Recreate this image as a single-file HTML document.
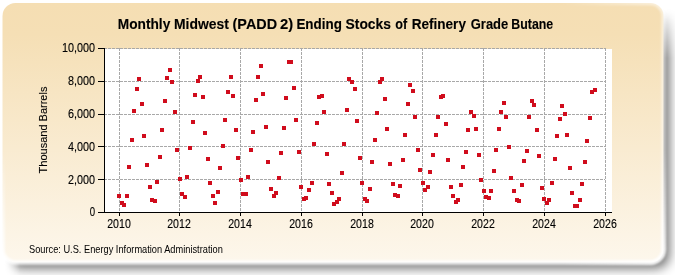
<!DOCTYPE html>
<html><head><meta charset="utf-8"><style>
html,body{margin:0;padding:0;background:#fff;}
body{width:675px;height:275px;overflow:hidden;position:relative;}
svg{position:absolute;left:0;top:0;}
svg{will-change:transform;}
text{font-family:"Liberation Sans",sans-serif;fill:#000;stroke:#000;stroke-width:0.12px;}
</style></head><body>
<svg width="675" height="275" viewBox="0 0 675 275">
<defs>
<linearGradient id="bg" x1="0" y1="0" x2="0" y2="1">
<stop offset="0" stop-color="#F5DEB3"/>
<stop offset="0.12" stop-color="#F5DFB5"/>
<stop offset="1" stop-color="#FDF7EC"/>
</linearGradient>
<filter id="sh" x="-5%" y="-10%" width="110%" height="120%">
<feGaussianBlur stdDeviation="5.75"/>
</filter>
<filter id="sh2" x="-10%" y="-10%" width="120%" height="120%"><feGaussianBlur stdDeviation="1.3"/></filter>
<linearGradient id="gx" gradientUnits="userSpaceOnUse" x1="4" y1="0" x2="20" y2="0"><stop offset="0" stop-color="#fff" stop-opacity="0"/><stop offset="1" stop-color="#fff" stop-opacity="1"/></linearGradient>
<linearGradient id="gy" gradientUnits="userSpaceOnUse" x1="0" y1="8" x2="0" y2="58"><stop offset="0" stop-color="#fff" stop-opacity="0"/><stop offset="1" stop-color="#fff" stop-opacity="1"/></linearGradient>
<mask id="mx" maskUnits="userSpaceOnUse" x="0" y="0" width="675" height="275"><rect x="0" y="0" width="675" height="275" fill="url(#gx)"/></mask>
<mask id="my" maskUnits="userSpaceOnUse" x="0" y="0" width="675" height="275"><rect x="0" y="0" width="675" height="275" fill="url(#gy)"/></mask>
<linearGradient id="ggx" gradientUnits="userSpaceOnUse" x1="560" y1="0" x2="650" y2="0"><stop offset="0" stop-color="#fff" stop-opacity="0"/><stop offset="1" stop-color="#fff" stop-opacity="0.6"/></linearGradient>
<linearGradient id="ggy" gradientUnits="userSpaceOnUse" x1="0" y1="150" x2="0" y2="250"><stop offset="0" stop-color="#fff" stop-opacity="0"/><stop offset="1" stop-color="#fff" stop-opacity="1"/></linearGradient>
<mask id="mgx" maskUnits="userSpaceOnUse" x="0" y="0" width="675" height="275"><rect x="0" y="0" width="675" height="275" fill="url(#ggx)"/></mask>
<mask id="mgy" maskUnits="userSpaceOnUse" x="0" y="0" width="675" height="275"><rect x="0" y="0" width="675" height="275" fill="url(#ggy)"/></mask>
</defs>
<g mask="url(#mx)"><g mask="url(#my)"><rect x="8" y="8.5" width="661" height="259.5" rx="13" ry="13" fill="#000" opacity="0.6" filter="url(#sh)"/></g></g>
<rect x="2.5" y="3" width="661" height="259.5" rx="13" ry="13" fill="url(#bg)"/>
<g mask="url(#mgx)"><rect x="2.5" y="3" width="661" height="259.5" rx="13" ry="13" fill="none" stroke="#fff" stroke-opacity="0.85" stroke-width="4.5" filter="url(#sh2)"/></g>
<g mask="url(#mgy)"><rect x="2.5" y="3" width="661" height="259.5" rx="13" ry="13" fill="none" stroke="#fff" stroke-opacity="0.85" stroke-width="4.5" filter="url(#sh2)"/></g>
<rect x="105" y="49" width="507" height="163" fill="#fff"/>
<g stroke="#a8a8a8" stroke-width="1" stroke-dasharray="3,1" fill="none"><line x1="104" y1="48.5" x2="605" y2="48.5"/><line x1="104" y1="81.5" x2="605" y2="81.5"/><line x1="104" y1="114.5" x2="605" y2="114.5"/><line x1="104" y1="146.5" x2="605" y2="146.5"/><line x1="104" y1="179.5" x2="605" y2="179.5"/><line x1="119.5" y1="48" x2="119.5" y2="212"/><line x1="179.5" y1="48" x2="179.5" y2="212"/><line x1="240.5" y1="48" x2="240.5" y2="212"/><line x1="301.5" y1="48" x2="301.5" y2="212"/><line x1="362.5" y1="48" x2="362.5" y2="212"/><line x1="422.5" y1="48" x2="422.5" y2="212"/><line x1="483.5" y1="48" x2="483.5" y2="212"/><line x1="544.5" y1="48" x2="544.5" y2="212"/><line x1="605.5" y1="48" x2="605.5" y2="212"/></g>
<g stroke="#000" stroke-width="1" fill="none">
<line x1="104.5" y1="48" x2="104.5" y2="212"/>
<line x1="98" y1="212.5" x2="612" y2="212.5"/>
<line x1="98" y1="48.5" x2="104" y2="48.5"/><line x1="98" y1="81.5" x2="104" y2="81.5"/><line x1="98" y1="114.5" x2="104" y2="114.5"/><line x1="98" y1="146.5" x2="104" y2="146.5"/><line x1="98" y1="179.5" x2="104" y2="179.5"/><line x1="98" y1="212.5" x2="104" y2="212.5"/><line x1="119.5" y1="212" x2="119.5" y2="216"/><line x1="179.5" y1="212" x2="179.5" y2="216"/><line x1="240.5" y1="212" x2="240.5" y2="216"/><line x1="301.5" y1="212" x2="301.5" y2="216"/><line x1="362.5" y1="212" x2="362.5" y2="216"/><line x1="422.5" y1="212" x2="422.5" y2="216"/><line x1="483.5" y1="212" x2="483.5" y2="216"/><line x1="544.5" y1="212" x2="544.5" y2="216"/><line x1="605.5" y1="212" x2="605.5" y2="216"/>
</g>
<g fill="#D00C1C"><rect x="117" y="194" width="4" height="4"/><rect x="120" y="201" width="4" height="4"/><rect x="122" y="203" width="4" height="4"/><rect x="125" y="194" width="4" height="4"/><rect x="127" y="165" width="4" height="4"/><rect x="130" y="138" width="4" height="4"/><rect x="132" y="109" width="4" height="4"/><rect x="135" y="87" width="4" height="4"/><rect x="137" y="77" width="4" height="4"/><rect x="140" y="102" width="4" height="4"/><rect x="142" y="134" width="4" height="4"/><rect x="145" y="163" width="4" height="4"/><rect x="148" y="185" width="4" height="4"/><rect x="150" y="198" width="4" height="4"/><rect x="153" y="199" width="4" height="4"/><rect x="155" y="180" width="4" height="4"/><rect x="158" y="155" width="4" height="4"/><rect x="160" y="128" width="4" height="4"/><rect x="163" y="99" width="4" height="4"/><rect x="165" y="76" width="4" height="4"/><rect x="168" y="68" width="4" height="4"/><rect x="170" y="80" width="4" height="4"/><rect x="173" y="110" width="4" height="4"/><rect x="175" y="148" width="4" height="4"/><rect x="178" y="177" width="4" height="4"/><rect x="180" y="192" width="4" height="4"/><rect x="183" y="195" width="4" height="4"/><rect x="185" y="175" width="4" height="4"/><rect x="188" y="146" width="4" height="4"/><rect x="191" y="120" width="4" height="4"/><rect x="193" y="93" width="4" height="4"/><rect x="196" y="79" width="4" height="4"/><rect x="198" y="75" width="4" height="4"/><rect x="201" y="95" width="4" height="4"/><rect x="203" y="131" width="4" height="4"/><rect x="206" y="157" width="4" height="4"/><rect x="208" y="181" width="4" height="4"/><rect x="211" y="194" width="4" height="4"/><rect x="213" y="201" width="4" height="4"/><rect x="216" y="190" width="4" height="4"/><rect x="218" y="166" width="4" height="4"/><rect x="221" y="144" width="4" height="4"/><rect x="223" y="118" width="4" height="4"/><rect x="226" y="90" width="4" height="4"/><rect x="229" y="75" width="4" height="4"/><rect x="231" y="94" width="4" height="4"/><rect x="234" y="128" width="4" height="4"/><rect x="236" y="156" width="4" height="4"/><rect x="239" y="178" width="4" height="4"/><rect x="241" y="192" width="4" height="4"/><rect x="244" y="192" width="4" height="4"/><rect x="246" y="175" width="4" height="4"/><rect x="249" y="148" width="4" height="4"/><rect x="251" y="130" width="4" height="4"/><rect x="254" y="98" width="4" height="4"/><rect x="256" y="75" width="4" height="4"/><rect x="259" y="64" width="4" height="4"/><rect x="261" y="92" width="4" height="4"/><rect x="264" y="125" width="4" height="4"/><rect x="266" y="160" width="4" height="4"/><rect x="269" y="187" width="4" height="4"/><rect x="272" y="194" width="4" height="4"/><rect x="274" y="191" width="4" height="4"/><rect x="277" y="176" width="4" height="4"/><rect x="279" y="151" width="4" height="4"/><rect x="282" y="126" width="4" height="4"/><rect x="284" y="96" width="4" height="4"/><rect x="287" y="60" width="4" height="4"/><rect x="289" y="60" width="4" height="4"/><rect x="292" y="86" width="4" height="4"/><rect x="294" y="118" width="4" height="4"/><rect x="297" y="150" width="4" height="4"/><rect x="299" y="185" width="4" height="4"/><rect x="302" y="197" width="4" height="4"/><rect x="304" y="196" width="4" height="4"/><rect x="307" y="188" width="4" height="4"/><rect x="310" y="181" width="4" height="4"/><rect x="312" y="142" width="4" height="4"/><rect x="315" y="121" width="4" height="4"/><rect x="317" y="95" width="4" height="4"/><rect x="320" y="94" width="4" height="4"/><rect x="322" y="110" width="4" height="4"/><rect x="325" y="152" width="4" height="4"/><rect x="327" y="182" width="4" height="4"/><rect x="330" y="191" width="4" height="4"/><rect x="332" y="202" width="4" height="4"/><rect x="335" y="200" width="4" height="4"/><rect x="337" y="197" width="4" height="4"/><rect x="340" y="171" width="4" height="4"/><rect x="342" y="142" width="4" height="4"/><rect x="345" y="108" width="4" height="4"/><rect x="347" y="77" width="4" height="4"/><rect x="350" y="80" width="4" height="4"/><rect x="353" y="87" width="4" height="4"/><rect x="355" y="119" width="4" height="4"/><rect x="358" y="156" width="4" height="4"/><rect x="360" y="181" width="4" height="4"/><rect x="363" y="197" width="4" height="4"/><rect x="365" y="199" width="4" height="4"/><rect x="368" y="187" width="4" height="4"/><rect x="370" y="160" width="4" height="4"/><rect x="373" y="138" width="4" height="4"/><rect x="375" y="111" width="4" height="4"/><rect x="378" y="80" width="4" height="4"/><rect x="380" y="77" width="4" height="4"/><rect x="383" y="97" width="4" height="4"/><rect x="385" y="127" width="4" height="4"/><rect x="388" y="162" width="4" height="4"/><rect x="391" y="182" width="4" height="4"/><rect x="393" y="193" width="4" height="4"/><rect x="396" y="194" width="4" height="4"/><rect x="398" y="184" width="4" height="4"/><rect x="401" y="158" width="4" height="4"/><rect x="403" y="133" width="4" height="4"/><rect x="406" y="102" width="4" height="4"/><rect x="408" y="83" width="4" height="4"/><rect x="411" y="89" width="4" height="4"/><rect x="413" y="115" width="4" height="4"/><rect x="416" y="148" width="4" height="4"/><rect x="418" y="168" width="4" height="4"/><rect x="421" y="181" width="4" height="4"/><rect x="423" y="188" width="4" height="4"/><rect x="426" y="185" width="4" height="4"/><rect x="428" y="170" width="4" height="4"/><rect x="431" y="153" width="4" height="4"/><rect x="434" y="133" width="4" height="4"/><rect x="436" y="115" width="4" height="4"/><rect x="439" y="95" width="4" height="4"/><rect x="441" y="94" width="4" height="4"/><rect x="444" y="122" width="4" height="4"/><rect x="446" y="158" width="4" height="4"/><rect x="449" y="185" width="4" height="4"/><rect x="451" y="194" width="4" height="4"/><rect x="454" y="200" width="4" height="4"/><rect x="456" y="198" width="4" height="4"/><rect x="459" y="183" width="4" height="4"/><rect x="461" y="165" width="4" height="4"/><rect x="464" y="150" width="4" height="4"/><rect x="466" y="128" width="4" height="4"/><rect x="469" y="110" width="4" height="4"/><rect x="472" y="114" width="4" height="4"/><rect x="474" y="127" width="4" height="4"/><rect x="477" y="153" width="4" height="4"/><rect x="479" y="178" width="4" height="4"/><rect x="482" y="189" width="4" height="4"/><rect x="484" y="195" width="4" height="4"/><rect x="487" y="196" width="4" height="4"/><rect x="489" y="189" width="4" height="4"/><rect x="492" y="169" width="4" height="4"/><rect x="494" y="148" width="4" height="4"/><rect x="497" y="127" width="4" height="4"/><rect x="499" y="110" width="4" height="4"/><rect x="502" y="101" width="4" height="4"/><rect x="504" y="115" width="4" height="4"/><rect x="507" y="145" width="4" height="4"/><rect x="509" y="176" width="4" height="4"/><rect x="512" y="189" width="4" height="4"/><rect x="515" y="198" width="4" height="4"/><rect x="517" y="199" width="4" height="4"/><rect x="520" y="183" width="4" height="4"/><rect x="522" y="159" width="4" height="4"/><rect x="525" y="149" width="4" height="4"/><rect x="527" y="115" width="4" height="4"/><rect x="530" y="99" width="4" height="4"/><rect x="532" y="103" width="4" height="4"/><rect x="535" y="128" width="4" height="4"/><rect x="537" y="154" width="4" height="4"/><rect x="540" y="186" width="4" height="4"/><rect x="542" y="197" width="4" height="4"/><rect x="545" y="201" width="4" height="4"/><rect x="547" y="198" width="4" height="4"/><rect x="550" y="181" width="4" height="4"/><rect x="553" y="157" width="4" height="4"/><rect x="555" y="134" width="4" height="4"/><rect x="558" y="117" width="4" height="4"/><rect x="560" y="104" width="4" height="4"/><rect x="563" y="112" width="4" height="4"/><rect x="565" y="133" width="4" height="4"/><rect x="568" y="166" width="4" height="4"/><rect x="570" y="191" width="4" height="4"/><rect x="573" y="204" width="4" height="4"/><rect x="575" y="204" width="4" height="4"/><rect x="578" y="198" width="4" height="4"/><rect x="580" y="182" width="4" height="4"/><rect x="583" y="160" width="4" height="4"/><rect x="585" y="139" width="4" height="4"/><rect x="588" y="116" width="4" height="4"/><rect x="590" y="90" width="4" height="4"/><rect x="593" y="88" width="4" height="4"/></g>
<g style="font-weight:bold;font-size:14.8px"><text transform="translate(117.77,28.7) scale(0.926,1)">Monthly</text><text transform="translate(173.96,28.7) scale(0.94,1)">Midwest</text><text transform="translate(232.57,28.7) scale(0.974,1)">(PADD</text><text transform="translate(279.9,28.7) scale(1.0,1)">2)</text><text transform="translate(296.39,28.7) scale(0.908,1)">Ending</text><text transform="translate(345.53,28.7) scale(0.937,1)">Stocks</text><text transform="translate(395.27,28.7) scale(0.852,1)">of</text><text transform="translate(411.68,28.7) scale(0.917,1)">Refinery</text><text transform="translate(470.76,28.7) scale(0.877,1)">Grade</text><text transform="translate(511.37,28.7) scale(0.835,1)">Butane</text></g>
<g text-anchor="end" style="font-size:12px"><text transform="translate(95,51.9) scale(0.9,1)">10,000</text><text transform="translate(95,84.8) scale(0.9,1)">8,000</text><text transform="translate(95,117.8) scale(0.9,1)">6,000</text><text transform="translate(95,150.8) scale(0.9,1)">4,000</text><text transform="translate(95,183.8) scale(0.9,1)">2,000</text><text transform="translate(95,215.6) scale(0.8,1)">0</text></g>
<g text-anchor="middle" style="font-size:12.3px"><text transform="translate(119,227.5) scale(0.86,1)">2010</text><text transform="translate(179,227.5) scale(0.86,1)">2012</text><text transform="translate(240,227.5) scale(0.86,1)">2014</text><text transform="translate(301,227.5) scale(0.86,1)">2016</text><text transform="translate(362,227.5) scale(0.86,1)">2018</text><text transform="translate(422,227.5) scale(0.86,1)">2020</text><text transform="translate(483,227.5) scale(0.86,1)">2022</text><text transform="translate(544,227.5) scale(0.86,1)">2024</text><text transform="translate(605,227.5) scale(0.86,1)">2026</text></g>
<text transform="translate(46.5,130) rotate(-90)" text-anchor="middle" style="font-size:11px;stroke-width:0.1px">Thousand Barrels</text>
<text transform="translate(29,253.4) scale(0.926,1)" style="font-size:10px;stroke-width:0">Source: U.S. Energy Information Administration</text>
</svg>
</body></html>
